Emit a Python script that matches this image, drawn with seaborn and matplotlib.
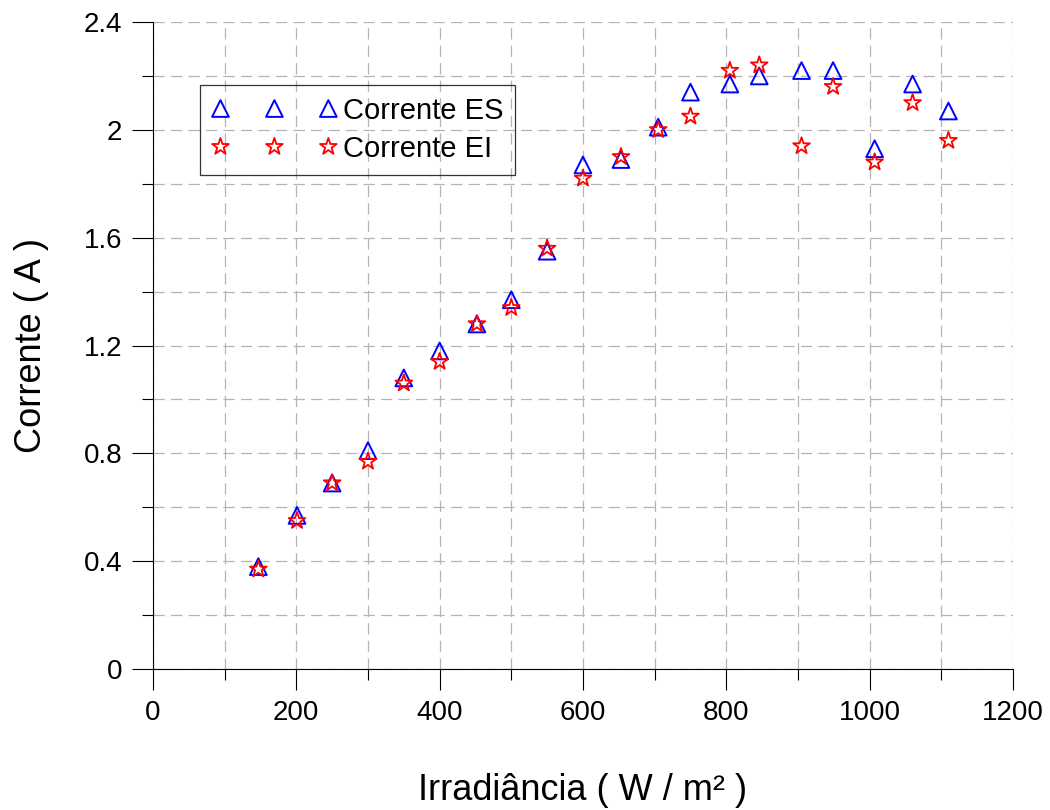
import matplotlib
matplotlib.use("Agg")
import matplotlib.pyplot as plt
from matplotlib.ticker import MultipleLocator, FormatStrFormatter
import seaborn as sns
import pandas as pd

# irradiance (W/m2) and measured currents (A)
irradiancia = [147, 201, 250, 300, 350, 400, 452, 500, 550, 600,
               653, 705, 750, 805, 846, 905, 949, 1007, 1060, 1110]
corrente_es = [0.38, 0.57, 0.69, 0.81, 1.08, 1.18, 1.28, 1.37, 1.55, 1.87,
               1.89, 2.01, 2.14, 2.17, 2.20, 2.22, 2.22, 1.93, 2.17, 2.07]
corrente_ei = [0.37, 0.55, 0.69, 0.77, 1.06, 1.14, 1.28, 1.34, 1.56, 1.82,
               1.90, 2.00, 2.05, 2.22, 2.24, 1.94, 2.16, 1.88, 2.10, 1.96]

df = pd.DataFrame({"irr": irradiancia, "es": corrente_es, "ei": corrente_ei})

sns.set_style("white", {"text.color": "black", "axes.labelcolor": "black",
                        "xtick.color": "black", "ytick.color": "black"})
plt.rcParams['font.family'] = ['Liberation Sans', 'DejaVu Sans']

fig = plt.figure(figsize=(10.5, 8.1), dpi=100)
ax = fig.add_axes([0.1457, 0.174, 0.819, 0.7988])

sns.scatterplot(x="irr", y="es", data=df, ax=ax, marker="^", s=145,
                facecolor="none", edgecolor="blue", linewidth=1.4,
                label="Corrente ES", zorder=3)
sns.scatterplot(x="irr", y="ei", data=df, ax=ax, marker="*", s=160,
                facecolor="none", edgecolor="red", linewidth=1.3,
                label="Corrente EI", zorder=4)

ax.set_xlim(0, 1200)
ax.set_ylim(0, 2.4)
ax.xaxis.set_major_locator(MultipleLocator(200))
ax.xaxis.set_minor_locator(MultipleLocator(100))
ax.yaxis.set_major_locator(MultipleLocator(0.4))
ax.yaxis.set_minor_locator(MultipleLocator(0.2))
ax.yaxis.set_major_formatter(FormatStrFormatter('%g'))

ax.grid(True, which='both', color='#b4b4b4', linestyle=(0, (9, 5)), linewidth=0.9)
ax.set_axisbelow(True)

for side in ['top', 'right']:
    ax.spines[side].set_visible(False)
for side in ['left', 'bottom']:
    ax.spines[side].set_color('black')
    ax.spines[side].set_linewidth(0.8)

ax.tick_params(which='major', direction='out', length=15, width=0.8,
               color='black', labelcolor='black', labelsize=20, pad=7,
               left=True, bottom=True)
ax.tick_params(which='minor', direction='out', length=8, width=0.8,
               color='black', left=True, bottom=True)

ax.set_xlabel("Irradiância ( W / m² )", fontsize=26, labelpad=34, color='black')
ax.set_ylabel("Corrente ( A )", fontsize=26, labelpad=25, color='black')

leg = ax.legend(loc='upper left', bbox_to_anchor=(0.0547, 0.9026),
                borderaxespad=0, scatterpoints=3, scatteryoffsets=[0.5],
                fontsize=21, handlelength=4.3, handletextpad=0.2,
                labelspacing=0.35, borderpad=0.4, fancybox=False,
                frameon=True, edgecolor='black')
leg.get_frame().set_facecolor('none')
leg.get_frame().set_linewidth(0.9)
for t in leg.get_texts():
    t.set_color('black')

fig.savefig("out.png", dpi=100)
